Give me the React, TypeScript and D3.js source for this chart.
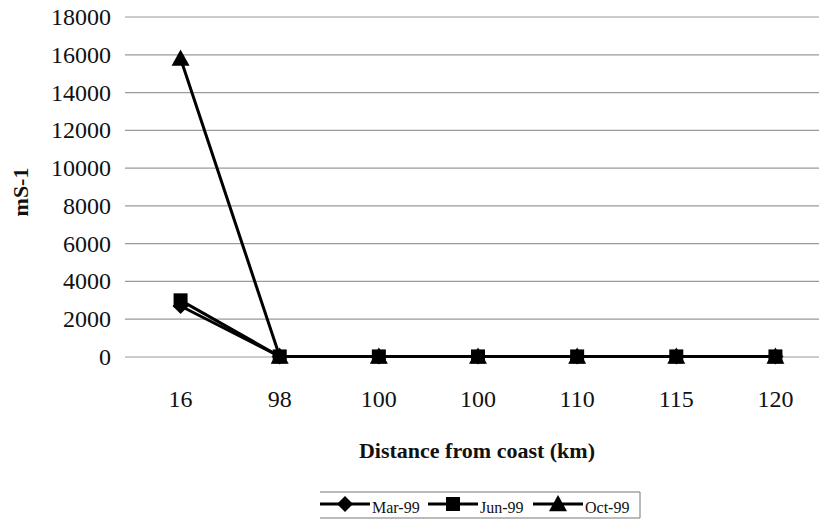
import React from "react";
import * as d3 from "d3";

const categories = ["16", "98", "100", "100", "110", "115", "120"];
const mar99 = [2700, 30, 30, 30, 30, 30, 30];
const jun99 = [3000, 30, 30, 30, 30, 30, 30];
const oct99 = [15800, 30, 30, 30, 30, 30, 30];
const yTicks = [0, 2000, 4000, 6000, 8000, 10000, 12000, 14000, 16000, 18000];

const W = 819;
const H = 521;
const left = 131;
const right = 825;
const top = 17;
const bottom = 357;

const font = "Liberation Serif, Times New Roman, serif";

function Marker({ type, x, y }: { type: string; x: number; y: number }) {
  if (type === "diamond") {
    const s = 8;
    return <path d={`M${x},${y - s}L${x + s},${y}L${x},${y + s}L${x - s},${y}Z`} fill="#000" />;
  }
  if (type === "square") {
    const s = 7;
    return <rect x={x - s} y={y - s} width={2 * s} height={2 * s} fill="#000" />;
  }
  const s = 9;
  return <path d={`M${x},${y - s}L${x + s},${y + s * 0.8}L${x - s},${y + s * 0.8}Z`} fill="#000" />;
}

export default function App() {
  const x = d3.scaleBand<number>().domain(d3.range(categories.length)).range([left, right]);
  const y = d3.scaleLinear().domain([0, 18000]).range([bottom, top]);
  const cx = (i: number) => (x(i) as number) + x.bandwidth() / 2;
  const line = d3
    .line<number>()
    .x((_, i) => cx(i))
    .y((d) => y(d));

  const series = [
    { name: "Mar-99", data: mar99, marker: "diamond" },
    { name: "Jun-99", data: jun99, marker: "square" },
    { name: "Oct-99", data: oct99, marker: "triangle" },
  ];

  const legendItems = [
    { name: "Mar-99", marker: "diamond", x: 320 },
    { name: "Jun-99", marker: "square", x: 428 },
    { name: "Oct-99", marker: "triangle", x: 533 },
  ];

  return (
    <svg
      width={W}
      height={H}
      style={{ position: "absolute", left: 0, top: 0, background: "#fff", fontFamily: font }}
    >
      {yTicks.map((t) => (
        <g key={t}>
          <line x1={125} x2={W} y1={y(t)} y2={y(t)} stroke="#9a9a9a" strokeWidth={1.2} />
          <text x={111} y={y(t) + 8} textAnchor="end" fontSize={24} fill="#111">
            {t}
          </text>
        </g>
      ))}
      {categories.map((c, i) => (
        <text key={i} x={cx(i)} y={407} textAnchor="middle" fontSize={24} fill="#111">
          {c}
        </text>
      ))}
      <text
        transform={`translate(28,192) rotate(-90)`}
        textAnchor="middle"
        fontSize={22}
        fontWeight="bold"
        fill="#111"
      >
        mS-1
      </text>
      <text x={477} y={458} textAnchor="middle" fontSize={22} fontWeight="bold" fill="#111">
        Distance from coast (km)
      </text>
      {series.map((s) => (
        <g key={s.name}>
          <path d={line(s.data) || ""} fill="none" stroke="#000" strokeWidth={3} />
          {s.data.map((v, i) => (
            <Marker key={i} type={s.marker} x={cx(i)} y={y(v)} />
          ))}
        </g>
      ))}
      <line x1={320} x2={640} y1={492} y2={492} stroke="#777" strokeWidth={1} />
      <line x1={320} x2={640} y1={518} y2={518} stroke="#777" strokeWidth={1} />
      <line x1={640} x2={640} y1={492} y2={518} stroke="#777" strokeWidth={1} />
      {legendItems.map((it) => (
        <g key={it.name}>
          <line x1={it.x} x2={it.x + 50} y1={504} y2={504} stroke="#000" strokeWidth={3} />
          <Marker type={it.marker} x={it.x + 25} y={504} />
          <text x={it.x + 52} y={513} fontSize={16} fill="#111">
            {it.name}
          </text>
        </g>
      ))}
    </svg>
  );
}
